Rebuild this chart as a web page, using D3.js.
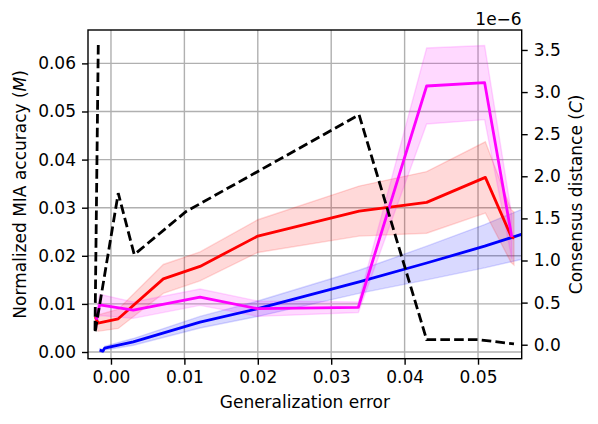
<!DOCTYPE html>
<html>
<head>
<meta charset="utf-8">
<script src="https://cdn.jsdelivr.net/npm/d3@7"></script>
<style>
  body { margin: 0; background: #fff; }
  text { font-family: "DejaVu Sans", sans-serif; font-size: 17px; fill: #000; }
</style>
</head>
<body>
<div id="chart"></div>
<script>
// Red series (left axis)
const redX = [-0.00214, -0.00177, 0.00099, 0.00713, 0.01213, 0.0200, 0.0338, 0.0430, 0.0510, 0.0545, 0.0549];
const redY = [0.0073, 0.0060, 0.0069, 0.0152, 0.0178, 0.0241, 0.0293, 0.0311, 0.0363, 0.0241, 0.0236];
const redErr = [0.0012, 0.0017, 0.0020, 0.0030, 0.0030, 0.0034, 0.0052, 0.0064, 0.0074, 0.0055, 0.0055];

// Magenta series (left axis)
const magX = [-0.0020, -0.00154, 0.00304, 0.01213, 0.0200, 0.0337, 0.0430, 0.0509, 0.0546];
const magY = [0.0067, 0.0098, 0.0087, 0.0114, 0.0090, 0.0093, 0.0553, 0.0560, 0.0239];
const magErr = [0.0020, 0.0022, 0.0017, 0.0017, 0.0016, 0.0011, 0.0079, 0.0077, 0.0045];

// Blue series (left axis)
const blueX = [-0.00154, -0.00109, -0.00086, 0.00304, 0.01213, 0.0200, 0.0338, 0.0430, 0.0509, 0.0560];
const blueY = [0.0004, 0.0002, 0.0008, 0.0021, 0.0062, 0.0090, 0.0146, 0.0185, 0.0220, 0.0245];
const blueErr = [0.0003, 0.0003, 0.0004, 0.0007, 0.0012, 0.0016, 0.0024, 0.0035, 0.0045, 0.0052];

// Consensus distance (right axis, units of 1e-6)
const distX = [-0.00173, -0.00218, 0.00099, 0.00317, 0.0102, 0.0338, 0.0430, 0.0500, 0.0549];
const distY = [3.56, 0.14, 1.80, 1.07, 1.58, 2.73, 0.06, 0.06, 0.01];

const xTicks = [0, 0.01, 0.02, 0.03, 0.04, 0.05];
const yLeftTicks = [0, 0.01, 0.02, 0.03, 0.04, 0.05, 0.06];
const yRightTicks = [0, 0.5, 1.0, 1.5, 2.0, 2.5, 3.0, 3.5];

const width = 598;
const height = 424;
const margin = { top: 30, right: 76.3, bottom: 65.3, left: 88 };

const svg = d3.select('#chart')
  .append('svg')
  .attr('width', width)
  .attr('height', height);

const x = d3.scaleLinear()
  .domain([-0.00313, 0.05595])
  .range([margin.left, width - margin.right]);

const yL = d3.scaleLinear()
  .domain([-0.00139, 0.06694])
  .range([height - margin.bottom, margin.top]);

const yR = d3.scaleLinear()
  .domain([-0.166, 3.737])
  .range([height - margin.bottom, margin.top]);

svg.append('clipPath').attr('id', 'plot-clip')
  .append('rect')
  .attr('x', margin.left)
  .attr('y', margin.top)
  .attr('width', width - margin.left - margin.right)
  .attr('height', height - margin.top - margin.bottom);

// Grid
const grid = svg.append('g');
grid.selectAll('.vgrid')
  .data(xTicks)
  .enter().append('line')
  .attr('x1', d => x(d)).attr('x2', d => x(d))
  .attr('y1', margin.top).attr('y2', height - margin.bottom)
  .attr('stroke', '#b0b0b0').attr('stroke-width', 1.4);
grid.selectAll('.hgrid')
  .data(yLeftTicks)
  .enter().append('line')
  .attr('x1', margin.left).attr('x2', width - margin.right)
  .attr('y1', d => yL(d)).attr('y2', d => yL(d))
  .attr('stroke', '#b0b0b0').attr('stroke-width', 1.4);

const plot = svg.append('g').attr('clip-path', 'url(#plot-clip)');

// Bands and lines
const series = [
  { xs: blueX, ys: blueY, err: blueErr, color: '#0000ff' },
  { xs: redX, ys: redY, err: redErr, color: '#ff0000' },
  { xs: magX, ys: magY, err: magErr, color: '#ff00ff' }
];

series.forEach(s => {
  const pts = s.xs.map((v, i) => ({ x: v, y: s.ys[i], e: s.err[i] }));
  const area = d3.area()
    .x(d => x(d.x))
    .y0(d => yL(d.y - d.e))
    .y1(d => yL(d.y + d.e));
  plot.append('path')
    .datum(pts)
    .attr('d', area)
    .attr('fill', s.color)
    .attr('fill-opacity', 0.15)
    .attr('stroke', s.color)
    .attr('stroke-opacity', 0.15)
    .attr('stroke-width', 1.4);
});

series.forEach(s => {
  const pts = s.xs.map((v, i) => ({ x: v, y: s.ys[i] }));
  plot.append('path')
    .datum(pts)
    .attr('d', d3.line().x(d => x(d.x)).y(d => yL(d.y)))
    .attr('fill', 'none')
    .attr('stroke', s.color)
    .attr('stroke-width', 2.8)
    .attr('stroke-linejoin', 'round');
});

const distPts = distX.map((v, i) => ({ x: v, y: distY[i] }));
plot.append('path')
  .datum(distPts)
  .attr('d', d3.line().x(d => x(d.x)).y(d => yR(d.y)))
  .attr('fill', 'none')
  .attr('stroke', '#000')
  .attr('stroke-width', 2.8)
  .attr('stroke-dasharray', '9.6,4.2');

// Axes
const xAxis = svg.append('g')
  .attr('transform', `translate(0,${height - margin.bottom})`)
  .call(d3.axisBottom(x).tickValues(xTicks).tickFormat(d3.format('.2f')).tickSize(6).tickPadding(6));

const leftAxis = svg.append('g')
  .attr('transform', `translate(${margin.left},0)`)
  .call(d3.axisLeft(yL).tickValues(yLeftTicks).tickFormat(d3.format('.2f')).tickSize(6).tickPadding(6));

const rightAxis = svg.append('g')
  .attr('transform', `translate(${width - margin.right},0)`)
  .call(d3.axisRight(yR).tickValues(yRightTicks).tickFormat(d3.format('.1f')).tickSize(6).tickPadding(6));

[xAxis, leftAxis, rightAxis].forEach(a => {
  a.select('.domain').remove();
  a.selectAll('.tick line').attr('stroke', '#000').attr('stroke-width', 1.4);
  a.selectAll('.tick text')
    .style('font-family', '"DejaVu Sans", sans-serif')
    .style('font-size', '17px')
    .attr('fill', '#000');
});

// Frame
svg.append('rect')
  .attr('x', margin.left)
  .attr('y', margin.top)
  .attr('width', width - margin.left - margin.right)
  .attr('height', height - margin.top - margin.bottom)
  .attr('fill', 'none')
  .attr('stroke', '#000')
  .attr('stroke-width', 1.4);

// Labels
svg.append('text')
  .attr('x', (margin.left + width - margin.right) / 2)
  .attr('y', 408)
  .attr('text-anchor', 'middle')
  .text('Generalization error');

const midY = (margin.top + height - margin.bottom) / 2;

const leftLabel = svg.append('text')
  .attr('transform', `translate(26,${midY}) rotate(-90)`)
  .attr('text-anchor', 'middle');
leftLabel.append('tspan').text('Normalized MIA accuracy (');
leftLabel.append('tspan').attr('font-style', 'italic').text('M');
leftLabel.append('tspan').text(')');

const rightLabel = svg.append('text')
  .attr('transform', `translate(581.5,${midY}) rotate(-90)`)
  .attr('text-anchor', 'middle');
rightLabel.append('tspan').text('Consensus distance (');
rightLabel.append('tspan').attr('font-style', 'italic').text('C');
rightLabel.append('tspan').text(')');

svg.append('text')
  .attr('x', width - margin.right)
  .attr('y', 25)
  .attr('text-anchor', 'end')
  .text('1e\u22126');
</script>
</body>
</html>
